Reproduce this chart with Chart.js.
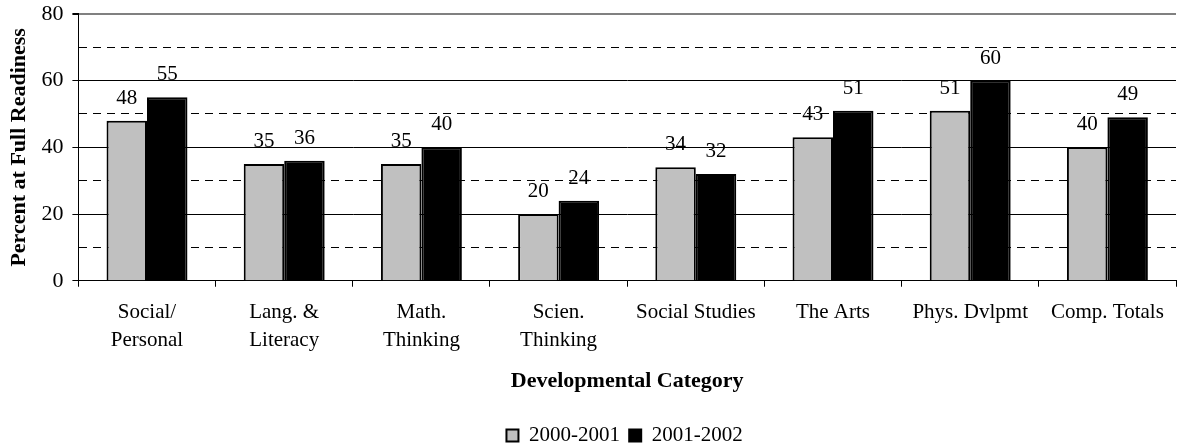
<!DOCTYPE html>
<html>
<head>
<meta charset="utf-8">
<script src="https://cdn.jsdelivr.net/npm/chart.js@4.4.0/dist/chart.umd.min.js"></script>
<style>
    html, body { margin: 0; padding: 0; background: #fff; }
    #wrap { width: 1178px; height: 448px; }
</style>
</head>
<body>
<div id="wrap"><canvas id="chartReadiness" width="1178" height="448"></canvas></div>
<script>
var categories = [
    ['Social/', 'Personal'],
    ['Lang. &', 'Literacy'],
    ['Math.', 'Thinking'],
    ['Scien.', 'Thinking'],
    'Social Studies',
    'The Arts',
    'Phys. Dvlpmt',
    'Comp. Totals'
];
var year2001 = [48, 35, 35, 20, 34, 43, 51, 40];
var year2002 = [55, 36, 40, 24, 32, 51, 60, 49];
var seriesNames = ['2000-2001', '2001-2002'];

var fontFamily = '"Liberation Serif", "Times New Roman", serif';

// draws the value above each bar
var barValues = {
    id: 'barValues',
    afterDatasetsDraw: function(chart) {
        var ctx = chart.ctx;
        ctx.save();
        ctx.font = '21px ' + fontFamily;
        ctx.fillStyle = '#000';
        ctx.textAlign = 'center';
        ctx.textBaseline = 'alphabetic';
        chart.data.datasets.forEach(function(ds, i) {
            chart.getDatasetMeta(i).data.forEach(function(bar, j) {
                ctx.fillText(ds.data[j], bar.x, bar.y - 17);
            });
        });
        ctx.restore();
    }
};

var chartData = {
    labels: categories,
    datasets: [{
        label: seriesNames[0],
        data: year2001,
        backgroundColor: '#c0c0c0',
        borderColor: '#000',
        borderWidth: 2
        },{
        label: seriesNames[1],
        data: year2002,
        backgroundColor: '#000',
        borderColor: '#000',
        borderWidth: 2
        }
    ]
};

var ctx = document.getElementById('chartReadiness');
var myReadinessChart = new Chart(ctx, {
    type: 'bar',
    data: chartData,
    plugins: [barValues],
    options: {
        responsive: false,
        animation: false,
        layout: { padding: { top: 0, right: 2, left: 0, bottom: -8 } },
        datasets: {
            bar: { categoryPercentage: 0.59, barPercentage: 1.0 }
        },
        plugins: {
            tooltip: { enabled: false },
            legend: {
                position: 'bottom',
                fullSize: false,
                labels: {
                    color: '#000',
                    font: { family: fontFamily, size: 21 },
                    boxWidth: 12,
                    boxHeight: 12,
                    padding: 4,
                    generateLabels: function(chart) {
                        var items = Chart.defaults.plugins.legend.labels.generateLabels(chart);
                        items.forEach(function(item) { item.text = item.text + ' '; });
                        return items;
                    }
                }
            }
        },
        scales: {
            x: {
                grid: {
                    offset: true,
                    drawOnChartArea: false,
                    color: '#000',
                    tickLength: 6
                },
                border: { color: '#000', width: 1 },
                ticks: {
                    color: '#000',
                    font: { family: fontFamily, size: 21, lineHeight: 1.33 },
                    maxRotation: 0,
                    autoSkip: false,
                    padding: 12
                },
                title: {
                    display: true,
                    text: 'Developmental Category',
                    color: '#000',
                    font: { family: fontFamily, size: 22, weight: 'bold' },
                    padding: { top: 2, bottom: 26 }
                }
            },
            y: {
                min: 0,
                max: 80,
                grid: {
                    color: function(c) {
                        if (c.tick && c.tick.value === 80) return '#808080';
                        return '#000';
                    },
                    lineWidth: function(c) {
                        if (c.tick && c.tick.value === 80) return 2;
                        return 1;
                    },
                    tickColor: function(c) {
                        if (c.tick && c.tick.value % 20 !== 0) return 'rgba(0,0,0,0)';
                        return '#000';
                    },
                    tickLength: 6
                },
                border: {
                    color: '#000',
                    width: 1,
                    dash: function(c) {
                        if (c.tick && c.tick.value % 20 !== 0) return [8, 6];
                        return [];
                    }
                },
                ticks: {
                    stepSize: 10,
                    color: '#000',
                    font: { family: fontFamily, size: 22, lineHeight: 0.45 },
                    padding: 9,
                    callback: function(v) { return v % 20 === 0 ? v : ''; }
                },
                title: {
                    display: true,
                    text: 'Percent at Full Readiness',
                    color: '#000',
                    font: { family: fontFamily, size: 22, weight: 'bold' },
                    padding: { top: 6, bottom: 0 }
                }
            }
        }
    }
});
</script>
</body>
</html>
